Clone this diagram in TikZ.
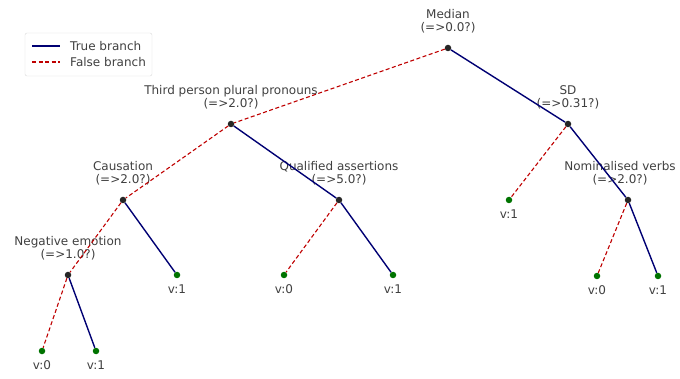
\documentclass[tikz,border=0pt]{standalone}
\usepackage{fontspec}
\setmainfont{DejaVu Sans}
\usetikzlibrary{positioning}

\tikzset{
  split/.style={circle, fill=black!85, inner sep=0pt, minimum size=6.5pt},
  leaf/.style={circle, fill=green!45!black, inner sep=0pt, minimum size=6.5pt},
  truebranch/.style={draw=blue!45!black, line width=1.4pt},
  falsebranch/.style={draw=red!75!black, line width=1.1pt, dash pattern=on 4pt off 2.5pt},
  test/.style={align=center, inner sep=0pt, text=black!75,
    font=\fontsize{12}{12.5}\selectfont},
}

\begin{document}
\begin{tikzpicture}[x=1pt, y=-1pt]
  \useasboundingbox (0,0) rectangle (680,379);

  % splits
  \node [split] (median) at (448,48) {};
  \node [split] (third) at (231,124) {};
  \node [split] (sd) at (568,124) {};
  \node [split] (causation) at (123,200) {};
  \node [split] (qualified) at (339,200) {};
  \node [split] (nominal) at (628,200) {};
  \node [split] (negative) at (68,275) {};

  % leaves
  \node [leaf] (neg0) at (42,351) {};
  \node [leaf] (neg1) at (96,351) {};
  \node [leaf] (caus1) at (177,275) {};
  \node [leaf] (qual0) at (284,275) {};
  \node [leaf] (qual1) at (393,275) {};
  \node [leaf] (sd1) at (509,200) {};
  \node [leaf] (nom0) at (597,276) {};
  \node [leaf] (nom1) at (658,276) {};

  % split labels
  \node [test, above=11.5pt of median] {Median\\(=>0.0?)};
  \node [test, above=11.5pt of third] {Third person plural pronouns\\(=>2.0?)};
  \node [test, above=11.5pt of sd] {SD\\(=>0.31?)};
  \node [test, above=11.5pt of causation] {Causation\\(=>2.0?)};
  \node [test, above=11.5pt of qualified] {Qualified assertions\\(=>5.0?)};
  \node [test, above=11.5pt of nominal, xshift=-8pt] {Nominalised verbs\\(=>2.0?)};
  \node [test, above=11.5pt of negative] {Negative emotion\\(=>1.0?)};

  % leaf labels
  \node [test, below=6pt of neg0] {v:0};
  \node [test, below=6pt of neg1] {v:1};
  \node [test, below=6pt of caus1] {v:1};
  \node [test, below=6pt of qual0] {v:0};
  \node [test, below=6pt of qual1] {v:1};
  \node [test, below=6pt of sd1] {v:1};
  \node [test, below=6pt of nom0] {v:0};
  \node [test, below=6pt of nom1] {v:1};

  % branches
  \draw [truebranch] (median) -- (sd);
  \draw [falsebranch] (median) -- (third);
  \draw [truebranch] (third) -- (qualified);
  \draw [falsebranch] (third) -- (causation);
  \draw [truebranch] (causation) -- (caus1);
  \draw [falsebranch] (causation) -- (negative);
  \draw [truebranch] (negative) -- (neg1);
  \draw [falsebranch] (negative) -- (neg0);
  \draw [truebranch] (qualified) -- (qual1);
  \draw [falsebranch] (qualified) -- (qual0);
  \draw [truebranch] (sd) -- (nominal);
  \draw [falsebranch] (sd) -- (sd1);
  \draw [truebranch] (nominal) -- (nom1);
  \draw [falsebranch] (nominal) -- (nom0);

  % legend
  \draw [black!15, rounded corners=2pt, fill=white] (25,33) rectangle (152,76);
  \coordinate (tstart) at (32,46);
  \coordinate (tend) at (60,46);
  \coordinate (fstart) at (32,62);
  \coordinate (fend) at (60,62);
  \draw [truebranch] (tstart) -- (tend);
  \draw [falsebranch] (fstart) -- (fend);
  \node [test, anchor=west] (truetext) at (70,46) {True branch};
  \node [test, anchor=west] (falsetext) at (70,62) {False branch};
\end{tikzpicture}
\end{document}
